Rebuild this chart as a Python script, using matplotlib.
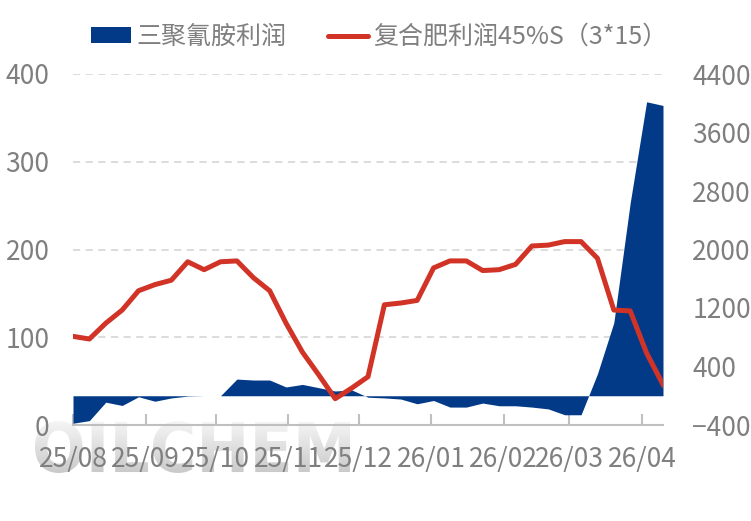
import matplotlib
matplotlib.use('Agg')
import matplotlib.pyplot as plt
import matplotlib.dates as mdates
from matplotlib.patches import Patch, PathPatch
from matplotlib.lines import Line2D
from matplotlib.textpath import TextPath
from matplotlib.font_manager import FontProperties
from matplotlib.transforms import Affine2D
import numpy as np
import pandas as pd

plt.rcParams['font.family'] = ['Noto Sans CJK SC', 'DejaVu Sans']

# 周度数据 2025-08-01 起
dates = pd.date_range('2025-08-01', periods=37, freq='7D')

# 三聚氰胺利润（右轴）
melamine_profit = [
    -376, -340, -88, -133, -14, -75, -30, -5, 0, 0,
    228, 215, 215, 120, 155, 110, 65, 80, -20, -30,
    -45, -110, -65, -155, -155, -100, -137, -137, -155, -180,
    -260, -260, 300, 1000, 2640, 4020, 3970,
]

# 复合肥利润45%S（3*15）（左轴）
fertilizer_profit = [
    101, 98, 116, 131, 153, 160, 165, 186, 177, 186,
    187, 168, 153, 116, 83, 57, 30, 42, 55, 137,
    139, 142, 179, 187, 187, 176, 177, 183, 204, 205,
    209, 209, 190, 131, 130, 82, 46,
]

left_ticks = [0, 100, 200, 300, 400]
right_ticks = [-400, 400, 1200, 2000, 2800, 3600, 4400]

BLUE = '#033a87'
RED = '#d13427'
GRAY = '#7f7f7f'
W, H = 751, 521

fig = plt.figure(figsize=(W / 100, H / 100), dpi=100)
fig.patch.set_facecolor('white')

# --- 水印 OILCHEM（灰色渐变） ---
wm = fig.add_axes([0, 0, 1, 1], zorder=-1)
wm.set_xlim(0, W)
wm.set_ylim(0, H)
wm.axis('off')
tp = TextPath((0, 0), 'OILCHEM', size=60,
              prop=FontProperties(family='DejaVu Sans', weight='bold'))
ext = tp.get_extents()
x0, x1, y0, y1 = 35, 350, H - 473, H - 421
tr = (Affine2D().translate(-ext.x0, -ext.y0)
      .scale((x1 - x0) / ext.width, (y1 - y0) / ext.height)
      .translate(x0, y0))
wm_patch = PathPatch(tr.transform_path(tp), facecolor='none', edgecolor='none')
wm.add_patch(wm_patch)
grad = np.linspace(0.79, 0.96, 64).reshape(-1, 1)
im = wm.imshow(grad, cmap='gray', vmin=0, vmax=1, aspect='auto',
               extent=(x0, x1, y1, y0), origin='upper')
im.set_clip_path(wm_patch)

pos = [73 / W, 1 - 425 / H, (663 - 73) / W, (425 - 74) / H]

# 底层：左轴刻度与网格
ax = fig.add_axes(pos)
ax.set_ylim(0, 400)
ax.set_yticks(left_ticks)
ax.yaxis.grid(True, color='#d9d9d9', linestyle=(0, (4, 3)), linewidth=1.3)
ax.set_axisbelow(True)
ax.patch.set_visible(False)

# 中层：三聚氰胺利润面积（右轴）
ax2 = ax.twinx()
ax2.fill_between(dates, melamine_profit, 0, color=BLUE, linewidth=0)
ax2.set_ylim(-400, 4400)
ax2.set_yticks(right_ticks)
ax2.patch.set_visible(False)

# 顶层：复合肥利润折线（左轴刻度）
ax3 = ax.twinx()
ax3.sharey(ax)
ax3.plot(dates, fertilizer_profit, color=RED, linewidth=3.6)
ax3.patch.set_visible(False)
ax3.tick_params(right=False, labelright=False)

ax.set_zorder(0)
ax2.set_zorder(1)
ax3.set_zorder(2)

ax.set_xlim(dates[0], dates[-1])
ax.xaxis.set_major_locator(mdates.MonthLocator())
ax.xaxis.set_major_formatter(mdates.DateFormatter('%y/%m'))

for a in (ax, ax2, ax3):
    for s in ('top', 'left', 'right', 'bottom'):
        a.spines[s].set_visible(False)

ax.spines['bottom'].set_visible(True)
ax.spines['bottom'].set_color('#bfbfbf')
ax.spines['bottom'].set_linewidth(1.5)
ax.tick_params(axis='x', direction='in', length=8, width=1.5, color='#bfbfbf',
               labelsize=19, labelcolor=GRAY, pad=15)
ax.tick_params(axis='y', length=0, labelsize=19, labelcolor=GRAY, pad=17)
ax2.tick_params(axis='y', length=0, labelsize=19, labelcolor=GRAY, pad=21)
ax2.tick_params(axis='x', bottom=False, labelbottom=False)
ax3.tick_params(axis='x', bottom=False, labelbottom=False)

handles = [Patch(facecolor=BLUE, edgecolor='none'),
           Line2D([0], [0], color=RED, linewidth=3.6, solid_capstyle='round')]
labels = ['三聚氰胺利润', '复合肥利润45%S（3*15）']
fig.legend(handles, labels, loc='center', bbox_to_anchor=(0.505, 0.929), ncol=2,
           frameon=False, fontsize=18, labelcolor=GRAY, handlelength=1.6,
           handleheight=0.6, handletextpad=0.2, columnspacing=1.7)

fig.savefig('out.png', dpi=100, facecolor='white')
